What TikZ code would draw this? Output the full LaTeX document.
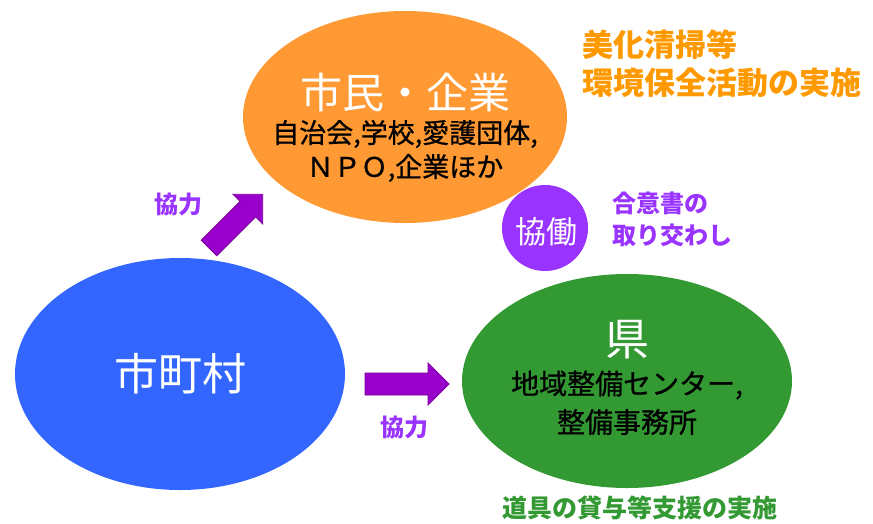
\documentclass[tikz,border=0pt]{standalone}
\usepackage{fontspec}
\setmainfont{Noto Sans CJK JP}
\newfontfamily\jpmed{Noto Sans CJK JP}[FakeBold=0.8]
\definecolor{cOrange}{HTML}{FF9933}
\definecolor{cBlue}{HTML}{3366FF}
\definecolor{cGreen}{HTML}{339933}
\definecolor{cPurple}{HTML}{9933FF}
\definecolor{cArrow}{HTML}{9900CC}
\definecolor{cArrowB}{HTML}{7A0099}
\definecolor{tOrange}{HTML}{FF9900}
\definecolor{tPurple}{HTML}{9933FF}
\definecolor{tGreen}{HTML}{339933}
\newcommand{\fs}[1]{\fontsize{#1}{#1}\selectfont}
\begin{document}
\begin{tikzpicture}[x=1pt,y=-1pt,
  lbl/.style={inner sep=0pt, align=center},
  blockarrow/.style={fill=cArrow, draw=cArrowB, line width=0.8pt, line join=miter}]
\useasboundingbox (0,0) rectangle (873,523);
% ellipses
\fill[cOrange] (405,117) ellipse [x radius=162, y radius=106];
\fill[cBlue] (180,374) ellipse [x radius=165, y radius=116];
\fill[cGreen] (627,381) ellipse [x radius=165, y radius=107];
\fill[cPurple] (545,228) circle [radius=43];
% block arrows
\draw[blockarrow] (365,373) -- (428,373) -- (428,363) -- (449,384) -- (428,405) -- (428,395) -- (365,395) -- cycle;
\begin{scope}[shift={(209,248)}, rotate=45]
\draw[blockarrow] (0,-11) -- (55,-11) -- (55,-21) -- (76,0) -- (55,21) -- (55,11) -- (0,11) -- cycle;
\end{scope}
% texts
\node[lbl, text=white, font=\fs{42}] (t1) at (405,92) {市民・企業};
\node[lbl, font=\jpmed\fs{27}] (t2) at (405,134) {自治会,学校,愛護団体,};
\node[lbl, font=\jpmed\fs{27}] (t3) at (405,168) {ＮＰＯ,企業ほか};
\node[lbl, text=white, font=\fs{44}] (t4) at (180,374) {市町村};
\node[lbl, text=white, font=\fs{44}] (t5) at (627,340) {県};
\node[lbl, font=\jpmed\fs{28}] (t6) at (627,385) {地域整備センター,};
\node[lbl, font=\jpmed\fs{28}] (t7) at (627,422) {整備事務所};
\node[lbl, text=white, font=\fs{31}] (t8) at (546,232) {協働};
\node[lbl, text=tPurple, font=\bfseries\fs{24}, anchor=west] (t9) at (612,203) {合意書の};
\node[lbl, text=tPurple, font=\bfseries\fs{24}, anchor=west] (t10) at (612,235) {取り交わし};
\node[lbl, text=tOrange, font=\bfseries\fs{31}, anchor=west] (t11) at (582,45) {美化清掃等};
\node[lbl, text=tOrange, font=\bfseries\fs{31}, anchor=west] (t12) at (582,83) {環境保全活動の実施};
\node[lbl, text=tPurple, font=\bfseries\fs{24}] (t13) at (178,204) {協力};
\node[lbl, text=tPurple, font=\bfseries\fs{24}] (t14) at (404,427) {協力};
\node[lbl, text=tGreen, font=\bfseries\fs{25}] (t15) at (640,508) {道具の貸与等支援の実施};
\end{tikzpicture}
\end{document}
